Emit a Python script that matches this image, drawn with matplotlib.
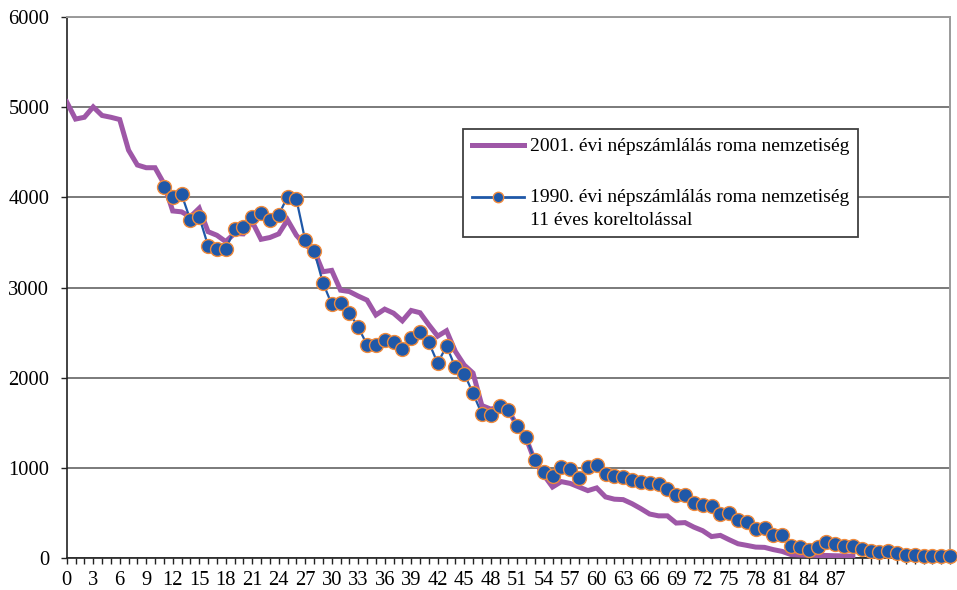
import matplotlib
matplotlib.use("Agg")
from matplotlib import pyplot as plt
from matplotlib.legend_handler import HandlerLine2D

# 2001 census, ages 0..89
ages_2001 = list(range(0, 90))
roma_2001 = [
    5060, 4870, 4890, 5005, 4910, 4890, 4865, 4525, 4360, 4330,
    4330, 4155, 3850, 3840, 3785, 3880, 3620, 3580, 3510, 3600,
    3595, 3730, 3535, 3555, 3595, 3750, 3580, 3470, 3415, 3175,
    3190, 2970, 2955, 2905, 2860, 2695, 2760, 2715, 2630, 2745,
    2720, 2585, 2460, 2520, 2290, 2140, 2050, 1690, 1650, 1670,
    1630, 1470, 1330, 1070, 920, 785, 845, 825, 785, 745,
    775, 675, 650, 645, 600, 545, 485, 465, 465, 385,
    390, 340, 300, 235, 248, 200, 155, 137, 118, 115,
    90, 70, 35, 30, 28, 25, 25, 22, 20, 18,
]

# 1990 census shifted by 11 years, ages 11..100
ages_1990 = list(range(11, 101))
roma_1990 = [
    4120, 4000, 4035, 3750, 3785, 3465, 3425, 3425, 3645,
    3675, 3785, 3825, 3750, 3805, 4010, 3980, 3525, 3410, 3055,
    2815, 2830, 2720, 2560, 2365, 2365, 2420, 2390, 2320, 2435,
    2510, 2390, 2160, 2350, 2115, 2045, 1825, 1595, 1585, 1685,
    1640, 1460, 1335, 1080, 955, 910, 1010, 990, 890, 1010,
    1030, 930, 910, 900, 865, 845, 830, 815, 760, 700,
    700, 605, 590, 575, 490, 495, 415, 395, 320, 330,
    255, 255, 125, 115, 90, 115, 180, 155, 135, 125,
    100, 70, 60, 80, 50, 35, 25, 22, 22, 15, 15,
]

label_2001 = "2001. évi népszámlálás roma nemzetiség"
label_1990 = "1990. évi népszámlálás roma nemzetiség\n11 éves koreltolással"


class FirstLineHandler(HandlerLine2D):
    # put the handle next to the first line of a two-line label
    def create_artists(self, legend, orig_handle, xdescent, ydescent,
                       width, height, fontsize, trans):
        artists = super().create_artists(legend, orig_handle, xdescent, ydescent,
                                         width, height, fontsize, trans)
        for a in artists:
            a.set_ydata([y + 8.5 for y in a.get_ydata()])
            a.set_linewidth(2.0)
        return artists


plt.rcParams['font.family'] = ['Liberation Serif', 'DejaVu Serif']

fig = plt.figure(figsize=(9.57, 5.90), dpi=100)
ax = fig.add_axes([0.0697, 0.0547, 0.9230, 0.9160])

line01, = ax.plot(ages_2001, roma_2001, color='#9E57A7', lw=3.6, solid_joinstyle='miter',
                  label=label_2001, zorder=3)
line90, = ax.plot(ages_1990, roma_1990, color='#1F58A8', lw=1.6, marker='o', ms=10,
                  mfc='#1F58A8', mec='#F08A3C', mew=1.0, label=label_1990,
                  zorder=4, clip_on=False)

ax.set_xlim(0, 100)
ax.set_ylim(0, 6000)
ax.set_yticks(range(0, 6001, 1000))
ax.set_xticks(range(0, 101))
ax.set_xticklabels([str(i) if i % 3 == 0 and i <= 89 else '' for i in range(101)])

ax.grid(axis='y', color='#7a7a7a', lw=1.4, zorder=0)
ax.set_axisbelow(True)
for s in ('top', 'right'):
    ax.spines[s].set_color('#9a9a9a')
    ax.spines[s].set_linewidth(1.4)
for s in ('left', 'bottom'):
    ax.spines[s].set_color('#222222')
    ax.spines[s].set_linewidth(1.2)

ax.tick_params(axis='both', labelsize=14.8, length=4.5, width=1.0,
               color='#222222')
ax.tick_params(axis='y', pad=8)
ax.tick_params(axis='x', pad=5)

leg = ax.legend(loc='upper left', bbox_to_anchor=(463 / 957, 1 - 129 / 590),
                bbox_transform=fig.transFigure, borderaxespad=0,
                fontsize=14, frameon=True, fancybox=False, framealpha=1,
                edgecolor='#404040', handlelength=2.7, handletextpad=0.3,
                labelspacing=1.75, borderpad=0.45, markerscale=0.75,
                handler_map={line90: FirstLineHandler()})
leg.get_frame().set_linewidth(1.3)
for t in leg.get_texts():
    t.set_linespacing(1.4)

fig.savefig('out.png', dpi=100)
